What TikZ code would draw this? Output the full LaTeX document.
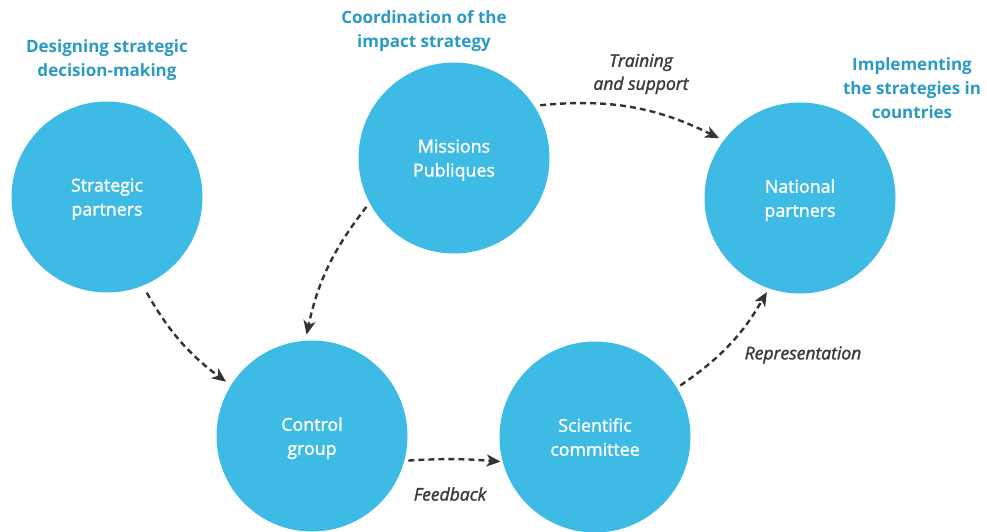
\documentclass[tikz,border=0pt]{standalone}
\usepackage{fontspec}
\setmainfont{Open Sans}
% a slightly heavier cut of the regular face for the circle texts and labels
\newfontfamily\semibold{Open Sans}[FakeBold=1.6]
\usetikzlibrary{arrows.meta}

\definecolor{bubble}{HTML}{3DBBE4}
\definecolor{heading}{HTML}{2A9AC4}
\definecolor{linkgray}{HTML}{333333}
\definecolor{labelgray}{HTML}{3A3A3A}

\tikzset{
  actor/.style={circle, fill=bubble, minimum size=191pt, inner sep=0pt,
    text depth=-1pt,
    text=white, align=center, font=\semibold\fontsize{17.8}{24}\selectfont},
  role/.style={text=heading, align=center, font=\bfseries\fontsize{17}{24}\selectfont},
  flow/.style={draw=linkgray, line width=2.4pt, dash pattern=on 6pt off 4pt,
    -{Stealth[length=14pt,width=12pt,inset=4pt]}},
  flowlabel/.style={text=labelgray, align=center, font=\semibold\itshape\fontsize{17.5}{23}\selectfont},
}

\begin{document}
\begin{tikzpicture}[x=1pt, y=-1pt]
  \useasboundingbox (0,0) rectangle (987,531);

  % actors
  \node[actor] (sp) at (107,197) {Strategic\\partners};
  \node[actor] (mp) at (454,158) {Missions\\Publiques};
  \node[actor] (np) at (800,198) {National\\partners};
  \node[actor] (cg) at (312,436) {Control\\group};
  \node[actor] (sc) at (595,437) {Scientific\\committee};

  % roles above the actors
  \node[role] (r1) at (107,60) {Designing strategic\\decision-making};
  \node[role] (r2) at (424,31) {Coordination of the\\impact strategy};
  \node[role] (r3) at (912,88) {Implementing\\the strategies in\\countries};

  % flows between actors
  \draw[flow, shorten <=8pt, shorten >=6pt] (sp.-68) to[bend right=12] (cg.148);
  \draw[flow, shorten <=5pt, shorten >=6pt] (mp.208) to[bend right=13] (cg.94);
  \draw[flow, shorten <=6pt, shorten >=5pt] (mp.33) to[bend left=16] (np.143);
  \draw[flow, shorten <=4pt, shorten >=2pt] (cg.-15) to[bend left=4] (sc.195);
  \draw[flow, shorten <=4pt, shorten >=4pt] (sc.31) to[bend right=13] (np.-109);

  % flow labels
  \node[flowlabel] (l1) at (641,74) {Training\\and support};
  \node[flowlabel] (l2) at (803,355) {Representation};
  \node[flowlabel] (l3) at (450,494) {Feedback};
\end{tikzpicture}
\end{document}
